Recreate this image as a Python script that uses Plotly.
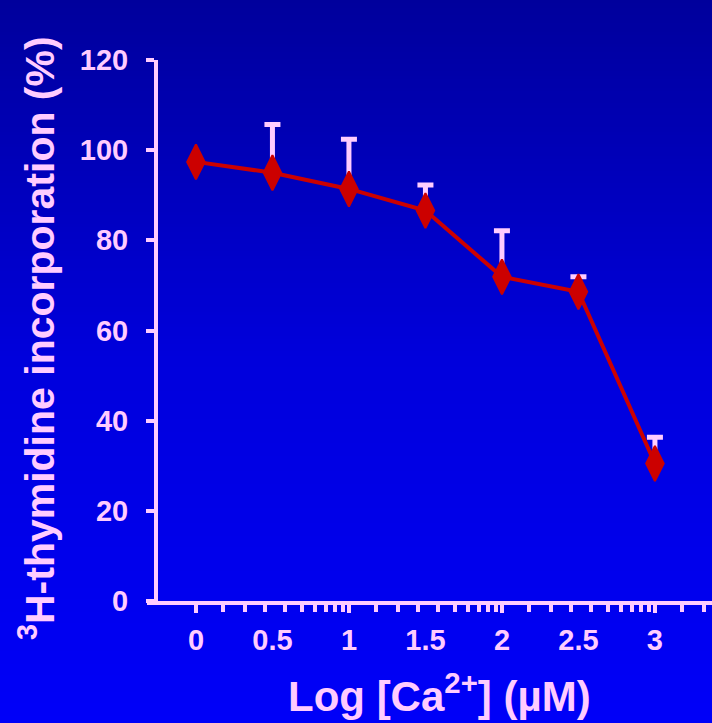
import plotly.graph_objects as go

# ---- data ----
log_ca = [0, 0.5, 1, 1.5, 2, 2.5, 3]
incorporation = [97.4, 95.0, 91.4, 86.6, 71.9, 68.6, 30.5]
err_up = [0, 10.7, 11.0, 5.7, 10.2, 3.3, 5.8]

x_tick_vals = [0, 0.5, 1, 1.5, 2, 2.5, 3]
x_tick_text = ["0", "0.5", "1", "1.5", "2", "2.5", "3"]
x_major_ticks = [0, 1, 2, 3]
minor_fracs = [0.18, 0.32, 0.45, 0.58, 0.69, 0.78, 0.85, 0.91, 0.96]
y_tick_vals = [0, 20, 40, 60, 80, 100, 120]

# background gradient stops: (pixel row, blue level)
bg_stops = [(0, 156), (360, 220), (723, 248)]

PINK = "#FFCCFF"
RED = "#CC0000"
FONT = "Liberation Sans, Arial, sans-serif"

W, H = 712, 723
L, R, T, B = 158, 0, 60, 122
plot_h = H - T - B
plot_w = W - L - R

x_range = [-0.248, 3.373]

minor_vals = [d + f for d in range(4) for f in minor_fracs]

fig = go.Figure()

# error bars (drawn first, under the line)
fig.add_trace(go.Scatter(
    x=log_ca, y=incorporation, mode="markers",
    marker=dict(size=1, color="rgba(0,0,0,0)"),
    error_y=dict(type="data", symmetric=False, array=err_up,
                 arrayminus=[0] * len(err_up), color=PINK,
                 thickness=5, width=8),
    hoverinfo="skip", showlegend=False,
))

fig.add_trace(go.Scatter(
    x=log_ca, y=incorporation, mode="lines+markers",
    line=dict(color=RED, width=4),
    marker=dict(symbol="diamond-tall", size=25, color=RED,
                line=dict(color=RED, width=2)),
    showlegend=False,
))

# dummy trace for overlay axis carrying long major ticks
fig.add_trace(go.Scatter(x=[None], y=[None], xaxis="x2", yaxis="y",
                         showlegend=False, hoverinfo="skip"))

# gradient background stripes
def blue_at(py):
    for (p0, b0), (p1, b1) in zip(bg_stops[:-1], bg_stops[1:]):
        if p0 <= py <= p1:
            return b0 + (b1 - b0) * (py - p0) / (p1 - p0)
    return bg_stops[-1][1]

shapes = []
step = 4
for py in range(0, H, step):
    b = int(round(blue_at(py + step / 2)))
    y1 = (H - B - py) / plot_h
    y0 = (H - B - (py + step)) / plot_h
    shapes.append(dict(type="rect", xref="paper", yref="paper",
                       x0=-L / plot_w - 0.01, x1=1.01, y0=y0 - 0.001, y1=y1 + 0.001,
                       fillcolor=f"rgb(0,0,{b})", line=dict(width=0), layer="below"))

# x-axis line extension to the left of the y axis
shapes.append(dict(type="line", xref="paper", yref="paper",
                   x0=-11 / plot_w, x1=0, y0=-2 / plot_h, y1=-2 / plot_h,
                   line=dict(color=PINK, width=4), layer="above"))

fig.update_layout(
    width=W, height=H,
    margin=dict(l=L, r=R, t=T, b=B, pad=0),
    paper_bgcolor="#0000C0",
    plot_bgcolor="rgba(0,0,0,0)",
    shapes=shapes,
    font=dict(family=FONT, color=PINK, weight="bold"),
    xaxis=dict(
        range=x_range, showgrid=False, zeroline=False,
        showline=True, linecolor=PINK, linewidth=4,
        tickvals=x_tick_vals, ticktext=x_tick_text, ticks="",
        ticklabelstandoff=10,
        tickfont=dict(size=29, family=FONT, color=PINK, weight="bold"),
        minor=dict(tickvals=minor_vals, ticks="outside", ticklen=7,
                   tickwidth=4, tickcolor=PINK, showgrid=False),
    ),
    xaxis2=dict(
        range=x_range, overlaying="x", anchor="y", side="bottom",
        showgrid=False, zeroline=False, showline=False,
        tickvals=x_major_ticks, ticks="outside", ticklen=11, tickwidth=4,
        tickcolor=PINK, showticklabels=False,
    ),
    yaxis=dict(
        range=[0, 120], showgrid=False, zeroline=False,
        showline=True, linecolor=PINK, linewidth=4,
        tickvals=y_tick_vals, ticks="outside", ticklen=8, tickwidth=4,
        tickcolor=PINK, ticklabelstandoff=12,
        tickfont=dict(size=29, family=FONT, color=PINK, weight="bold"),
    ),
    annotations=[
        dict(text="Log [Ca<sup>2+</sup>] (\u00b5M)", xref="paper", yref="paper",
             x=(439 - L) / plot_w, y=(H - B - 693) / plot_h,
             xanchor="center", yanchor="middle", showarrow=False,
             font=dict(size=42, family=FONT, color=PINK, weight="bold")),
        dict(text="<sup>3</sup>H-thymidine incorporation (%)", xref="paper", yref="paper",
             x=(37 - L) / plot_w, y=(H - B - 338) / plot_h, textangle=-90,
             xanchor="center", yanchor="middle", showarrow=False,
             font=dict(size=41, family=FONT, color=PINK, weight="bold")),
    ],
)

fig.write_html("out.html")
